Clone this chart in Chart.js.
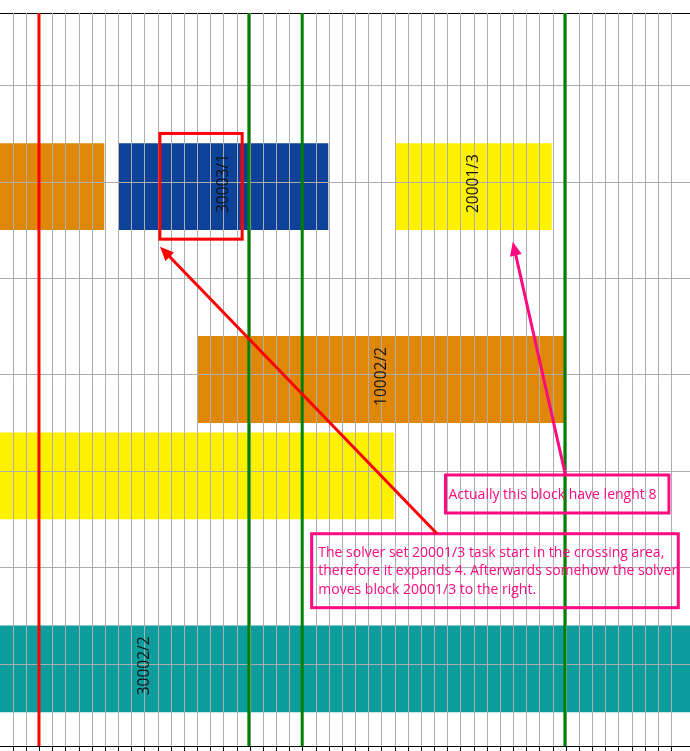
<!DOCTYPE html>
<html>
<head>
<meta charset="utf-8">
<script src="https://cdn.jsdelivr.net/npm/chart.js@4.4.1/dist/chart.umd.min.js"></script>
<style>
  html, body { margin: 0; padding: 0; background: #fff; }
  #contenedor { width: 690px; height: 751px; position: relative; }
</style>
</head>
<body>
<div id="contenedor"><canvas id="chartGantt"></canvas></div>
<script>
// bloques del plan: una fila por recurso, inicio y fin en periodos
const etiquetas = ["", "30003/1", "20001/3", "10002/2", "", "30002/2"];
const filas = [1, 1, 1, 3, 4, 6];
const inicios = [-10, 9, 30, 15, -36, -34];
const finales = [7.92, 24.93, 41.9, 42.88, 29.94, 55.9];

// lineas verticales marcadas
const lineasRojas = [2.96];
const lineasVerdes = [18.9, 22.95, 42.9];

// filas con linea horizontal de rejilla
const filasRejilla = [0, 1, 2, 3, 4, 5, 6];

// notas dibujadas encima (en unidades del grafico)
const textoNota1 = ["Actually this block have lenght 8"];
const textoNota2 = [
    "The solver set 20001/3 task start in the crossing area,",
    "therefore it expands 4. Afterwards somehow the solver",
    "moves block 20001/3 to the right."
];

const colores = ["#df8708", "#0e4299", "#fff100", "#df8708", "#fff100", "#0e9c9c"];
const ROSA = "#ff0a80";
const ROJO = "#ff0000";
const VERDE = "#008000";

let chartGantt;

const notas = {
    marco: { x1: 12.14, x2: 18.39, y1: 0.449, y2: 1.545 },
    flechaRoja: { x1: 33.19, y1: 4.599, x2: 12.15, y2: 1.623 },
    flechaRosa: { x1: 42.94, y1: 3.99, x2: 38.94, y2: 1.571 },
    caja1: { x1: 33.83, x2: 50.80, y1: 3.99, y2: 4.384, pad: 3, base: 24.5, lineas: textoNota1 },
    caja2: { x1: 23.67, x2: 51.51, y1: 4.599, y2: 5.366, pad: 6.6, base: 23, lineas: textoNota2 }
};

function flecha(ctx, x1, y1, x2, y2, color) {
    const ang = Math.atan2(y2 - y1, x2 - x1);
    const largo = 14, ancho = 6;
    ctx.strokeStyle = color;
    ctx.fillStyle = color;
    ctx.lineWidth = 3;
    ctx.beginPath();
    ctx.moveTo(x1, y1);
    ctx.lineTo(x2 - Math.cos(ang) * largo * 0.8, y2 - Math.sin(ang) * largo * 0.8);
    ctx.stroke();
    ctx.beginPath();
    ctx.moveTo(x2, y2);
    ctx.lineTo(x2 - Math.cos(ang) * largo - Math.sin(ang) * ancho, y2 - Math.sin(ang) * largo + Math.cos(ang) * ancho);
    ctx.lineTo(x2 - Math.cos(ang) * largo + Math.sin(ang) * ancho, y2 - Math.sin(ang) * largo - Math.cos(ang) * ancho);
    ctx.closePath();
    ctx.fill();
}

const pluginNotas = {
    id: "notas",
    afterDraw(chart) {
        const { ctx, chartArea: area, scales: { x, y } } = chart;
        ctx.save();
        ctx.beginPath();
        ctx.rect(area.left, area.top, area.right - area.left, area.bottom - area.top);
        ctx.clip();

        // etiquetas giradas de los bloques
        ctx.font = "15.5px 'Open Sans'";
        ctx.fillStyle = "#111";
        ctx.textAlign = "center";
        ctx.textBaseline = "middle";
        etiquetas.forEach((txt, i) => {
            if (!txt) return;
            const cx = x.getPixelForValue((inicios[i] + finales[i]) / 2);
            const cy = y.getPixelForValue(filas[i]);
            ctx.save();
            ctx.translate(cx, cy - 3);
            ctx.rotate(-Math.PI / 2);
            ctx.fillText(txt, 0, 0);
            ctx.restore();
        });

        // lineas verticales
        ctx.lineWidth = 3;
        lineasRojas.concat(lineasVerdes).forEach((v, i) => {
            const px = x.getPixelForValue(v);
            ctx.strokeStyle = i < lineasRojas.length ? ROJO : VERDE;
            ctx.beginPath();
            ctx.moveTo(px, area.top);
            ctx.lineTo(px, area.bottom);
            ctx.stroke();
        });

        // marco rojo
        const m = notas.marco;
        ctx.strokeStyle = ROJO;
        ctx.strokeRect(x.getPixelForValue(m.x1), y.getPixelForValue(m.y1),
            x.getPixelForValue(m.x2) - x.getPixelForValue(m.x1),
            y.getPixelForValue(m.y2) - y.getPixelForValue(m.y1));

        // cajas de texto
        ctx.font = "14px 'Open Sans'";
        ctx.textAlign = "left";
        ctx.textBaseline = "alphabetic";
        [notas.caja1, notas.caja2].forEach(c => {
            const bx = x.getPixelForValue(c.x1), by = y.getPixelForValue(c.y1);
            ctx.strokeStyle = ROSA;
            ctx.lineWidth = 3;
            ctx.strokeRect(bx, by, x.getPixelForValue(c.x2) - bx, y.getPixelForValue(c.y2) - by);
            ctx.fillStyle = ROSA;
            c.lineas.forEach((l, i) => ctx.fillText(l, bx + c.pad, by + c.base + i * 18.5));
        });

        // flechas
        const fr = notas.flechaRoja, fp = notas.flechaRosa;
        flecha(ctx, x.getPixelForValue(fr.x1), y.getPixelForValue(fr.y1),
            x.getPixelForValue(fr.x2), y.getPixelForValue(fr.y2), ROJO);
        flecha(ctx, x.getPixelForValue(fp.x1), y.getPixelForValue(fp.y1),
            x.getPixelForValue(fp.x2), y.getPixelForValue(fp.y2), ROSA);

        ctx.restore();
    }
};

function crearGrafico() {
    chartGantt = new Chart(document.getElementById("chartGantt"), {
        type: "bar",
        data: {
            datasets: [{
                data: filas.map((f, i) => ({ x: [inicios[i], finales[i]], y: f })),
                backgroundColor: colores,
                borderWidth: 0,
                barPercentage: 0.9,
                categoryPercentage: 1
            }]
        },
        options: {
            indexAxis: "y",
            responsive: true,
            maintainAspectRatio: false,
            animation: false,
            layout: { padding: { top: 13, left: 0, right: 0, bottom: 0 } },
            plugins: { legend: { display: false }, tooltip: { enabled: false } },
            scales: {
                x: {
                    type: "linear", min: 0, max: 52.4, offset: false,
                    ticks: { display: false, stepSize: 1 },
                    afterBuildTicks: s => { s.ticks = s.ticks.filter(t => t.value > 0.5); },
                    grid: { color: "#adadad", tickColor: "#000", tickLength: 5, lineWidth: 1, offset: false, z: 1 },
                    border: { display: true, color: "#000", width: 1, z: 1 }
                },
                xArriba: {
                    type: "linear", position: "top", min: 0, max: 1,
                    grid: { display: false, drawTicks: false },
                    ticks: { display: false },
                    border: { display: true, color: "#000", width: 1 }
                },
                y: {
                    type: "linear", reverse: true, min: -0.8, max: 6.8, offset: false,
                    ticks: { display: false },
                    afterBuildTicks: s => { s.ticks = filasRejilla.map(f => ({ value: f - 0.047 })); },
                    grid: { color: "#adadad", drawTicks: false, lineWidth: 1, offset: false, z: 1 },
                    border: { display: false }
                }
            }
        },
        plugins: [pluginNotas]
    });
}

document.addEventListener("DOMContentLoaded", crearGrafico);
</script>
</body>
</html>
